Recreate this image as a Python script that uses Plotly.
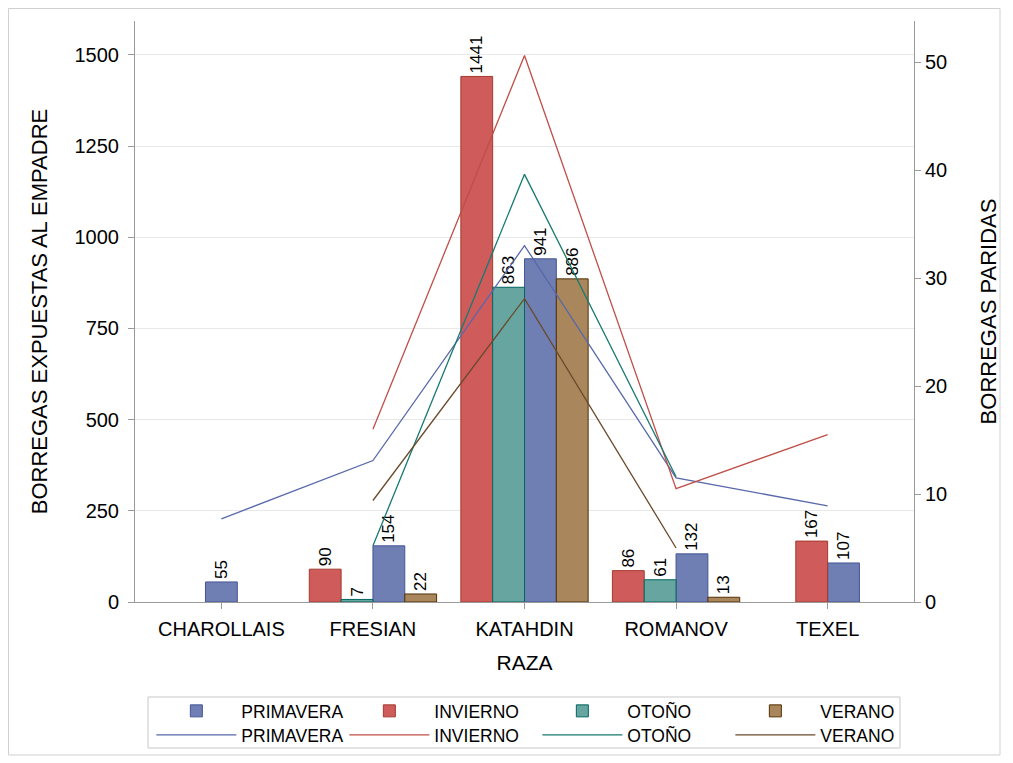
import plotly.graph_objects as go

# ---------------- data ----------------
razas = ["CHAROLLAIS", "FRESIAN", "KATAHDIN", "ROMANOV", "TEXEL"]
estaciones = ["PRIMAVERA", "INVIERNO", "OTOÑO", "VERANO"]
orden_cluster = ["INVIERNO", "OTOÑO", "PRIMAVERA", "VERANO"]

expuestas_primavera = [55, 154, 941, 132, 107]
expuestas_invierno = [None, 90, 1441, 86, 167]
expuestas_otono = [None, 7, 863, 61, None]
expuestas_verano = [None, 22, 886, 13, None]

paridas_primavera = [7.7, 13.1, 33.0, 11.5, 8.9]
paridas_invierno = [None, 16.0, 50.6, 10.5, 15.5]
paridas_otono = [None, 5.2, 39.6, 11.6, None]
paridas_verano = [None, 9.4, 28.1, 5.0, None]

expuestas = {"PRIMAVERA": expuestas_primavera, "INVIERNO": expuestas_invierno,
             "OTOÑO": expuestas_otono, "VERANO": expuestas_verano}
paridas = {"PRIMAVERA": paridas_primavera, "INVIERNO": paridas_invierno,
           "OTOÑO": paridas_otono, "VERANO": paridas_verano}

# ---------------- styles ----------------
fill = {"PRIMAVERA": "#6F7EB3", "INVIERNO": "#D05B5B", "OTOÑO": "#66A5A0", "VERANO": "#A9865B"}
edge = {"PRIMAVERA": "#445694", "INVIERNO": "#A23A2E", "OTOÑO": "#01665E", "VERANO": "#543005"}
linec = {"PRIMAVERA": "#5868aa", "INVIERNO": "#bf4f47", "OTOÑO": "#177a70", "VERANO": "#6a4a2a"}
FONT = "Liberation Sans, Arial, sans-serif"
W = 0.21  # bar width in category units

# offsets: cluster only over the groups present in each category
offsets = {s: [0.0] * len(razas) for s in estaciones}
for j in range(len(razas)):
    present = [s for s in orden_cluster if expuestas[s][j] is not None]
    n = len(present)
    for i, s in enumerate(present):
        offsets[s][j] = (i - n / 2) * W

fig = go.Figure()
for s in estaciones:
    vals = expuestas[s]
    fig.add_trace(go.Bar(
        x=razas, y=vals, name=s, width=W, offset=offsets[s],
        marker=dict(color=fill[s], line=dict(color=edge[s], width=1)),
        text=["" if v is None else str(v) for v in vals],
        textposition="outside", textangle=-90, constraintext="none",
        textfont=dict(family=FONT, size=17, color="#000000"),
        cliponaxis=False, legend="legend",
    ))
for s in estaciones:
    fig.add_trace(go.Scatter(
        x=razas, y=paridas[s], name=s, mode="lines", yaxis="y2",
        line=dict(color=linec[s], width=1.3), connectgaps=False,
        legend="legend2",
    ))

axis_gray = "#9a9a9a"
leg_common = dict(orientation="h", xanchor="left", yanchor="middle",
                  itemwidth=80, entrywidth=98, entrywidthmode="pixels",
                  bgcolor="rgba(0,0,0,0)", font=dict(family=FONT, size=17.5),
                  traceorder="normal")
fig.update_layout(
    width=1013, height=763,
    margin=dict(l=127, r=107, t=13, b=169, autoexpand=False),
    paper_bgcolor="white", plot_bgcolor="white",
    barmode="overlay",
    font=dict(family=FONT, color="#000000"),
    xaxis=dict(
        type="category", range=[-0.57, 4.57], automargin=False,
        showline=True, linecolor=axis_gray, linewidth=1,
        ticks="outside", ticklen=6, tickcolor=axis_gray, ticklabelstandoff=3,
        tickfont=dict(family=FONT, size=20),
        title=dict(text="RAZA", font=dict(family=FONT, size=21), standoff=16),
        showgrid=False, zeroline=False,
    ),
    yaxis=dict(
        range=[0, 1593], tickvals=[0, 250, 500, 750, 1000, 1250, 1500], automargin=False,
        showline=True, linecolor=axis_gray, linewidth=1,
        ticks="outside", ticklen=6, tickcolor=axis_gray, ticklabelstandoff=5,
        tickfont=dict(family=FONT, size=20),
        showgrid=True, gridcolor="#e8e8e8", gridwidth=1, zeroline=False,
        title=dict(text="BORREGAS EXPUESTAS AL EMPADRE", font=dict(family=FONT, size=22), standoff=20),
    ),
    yaxis2=dict(
        overlaying="y", side="right", range=[0, 53.8], automargin=False,
        tickvals=[0, 10, 20, 30, 40, 50],
        showline=True, linecolor=axis_gray, linewidth=1,
        ticks="outside", ticklen=6, tickcolor=axis_gray,
        tickfont=dict(family=FONT, size=20),
        showgrid=False, zeroline=False,
        title=dict(text="BORREGAS PARIDAS", font=dict(family=FONT, size=22), standoff=34),
    ),
    legend=dict(x=0.021, y=-0.1876, **leg_common),
    legend2=dict(x=0.021, y=-0.2289, **leg_common),
    shapes=[
        dict(type="rect", xref="paper", yref="paper", x0=0.0167, x1=0.982, y0=-0.2513, y1=-0.1635,
             line=dict(color="#c8c8c8", width=1), fillcolor="rgba(0,0,0,0)", layer="below"),
        dict(type="rect", xref="paper", yref="paper", x0=-0.1624, x1=1.1104, y0=-0.2633, y1=1.0215,
             line=dict(color="#d0d0d0", width=1), fillcolor="rgba(0,0,0,0)", layer="below"),
    ],
)

fig.write_html("out.html")
